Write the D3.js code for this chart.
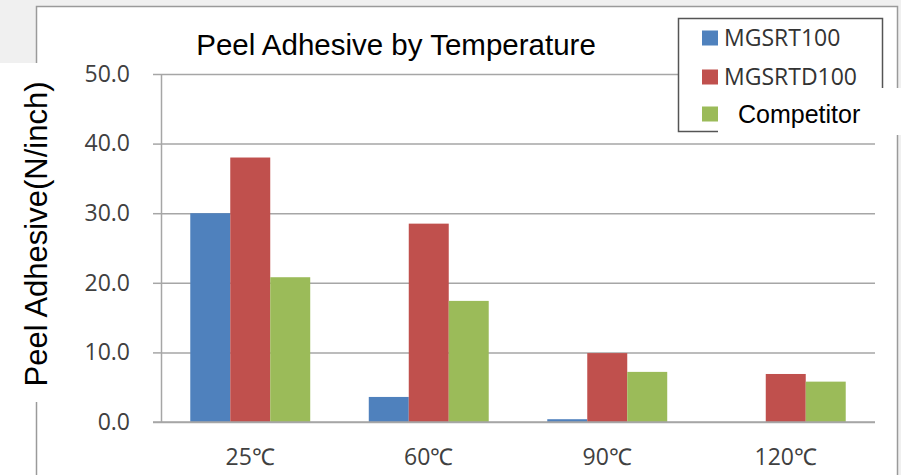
<!DOCTYPE html>
<html>
<head>
<meta charset="utf-8">
<script src="https://cdn.jsdelivr.net/npm/d3@7/dist/d3.min.js"></script>
<style>
  body { margin: 0; background: #f0f0f0; }
  svg { display: block; }
</style>
</head>
<body>
<script>
const categories = ["25℃", "60℃", "90℃", "120℃"];
const seriesNames = ["MGSRT100", "MGSRTD100", "Competitor"];
const mgsrt100 = [30.0, 3.6, 0.4, 0.0];
const mgsrtd100 = [38.0, 28.5, 9.9, 6.9];
const competitor = [20.8, 17.4, 7.2, 5.8];
const yTicks = [0, 10, 20, 30, 40, 50];
const colors = ["#4f81bd", "#c0504d", "#9bbb59"];

const svgWidth = 901, svgHeight = 475;
const plot = { left: 161, right: 875, top: 74, bottom: 422 };

const seriesValues = [mgsrt100, mgsrtd100, competitor];
const data = categories.map(function (c, i) {
    return { cat: c, values: seriesNames.map(function (s, j) { return { key: s, value: seriesValues[j][i] }; }) };
});

const svg = d3.select("body").append("svg")
    .attr("width", svgWidth)
    .attr("height", svgHeight);

// grey screenshot background and white chart frame
svg.append("rect").attr("width", svgWidth).attr("height", svgHeight).attr("fill", "#f0f0f0");
svg.append("rect").attr("x", 0).attr("y", 63).attr("width", 40).attr("height", svgHeight - 63).attr("fill", "#fff");
svg.append("rect")
    .attr("x", 36.5).attr("y", 6.5)
    .attr("width", 861).attr("height", 490)
    .attr("fill", "#fff").attr("stroke", "#9a9a9a").attr("stroke-width", 1.5);

const x0 = d3.scaleBand()
    .domain(categories)
    .range([plot.left, plot.right])
    .paddingInner(0.328)
    .paddingOuter(0.164);

const x1 = d3.scaleBand()
    .domain(seriesNames)
    .range([0, x0.bandwidth()]);

const y = d3.scaleLinear()
    .domain([0, 50])
    .range([plot.bottom, plot.top]);

// gridlines
svg.append("g")
    .attr("transform", "translate(" + plot.left + ",0)")
    .call(d3.axisLeft(y).tickValues(yTicks).tickSize(-(plot.right - plot.left)).tickFormat(""))
    .call(function (g) { g.select(".domain").remove(); })
    .call(function (g) { g.selectAll("line").attr("stroke", "#a6a6a6").attr("stroke-width", 1.5); });

// y axis with tick labels
svg.append("g")
    .attr("transform", "translate(" + plot.left + ",0)")
    .call(d3.axisLeft(y).tickValues(yTicks).tickSize(8).tickSizeOuter(0).tickPadding(23).tickFormat(d3.format(".1f")))
    .call(function (g) {
        g.selectAll("line, path").attr("stroke", "#a6a6a6").attr("stroke-width", 1.5);
        g.selectAll("text").attr("font-family", "'Open Sans', sans-serif").attr("font-size", 23).attr("fill", "#404040");
    });

// bars
const groups = svg.append("g").selectAll("g")
    .data(data).enter()
    .append("g")
    .attr("transform", function (d) { return "translate(" + x0(d.cat) + ",0)"; });

groups.selectAll("rect")
    .data(function (d) { return d.values; }).enter()
    .append("rect")
    .attr("x", function (d) { return x1(d.key); })
    .attr("y", function (d) { return y(d.value); })
    .attr("width", x1.bandwidth())
    .attr("height", function (d) { return y(0) - y(d.value); })
    .attr("fill", function (d, i) { return colors[i]; });

// x axis
svg.append("g")
    .attr("transform", "translate(0," + plot.bottom + ")")
    .call(d3.axisBottom(x0).tickSize(0).tickPadding(27))
    .call(function (g) {
        g.select(".domain").attr("d", "M" + (plot.left - 8) + ",0H" + plot.right).attr("stroke", "#a6a6a6").attr("stroke-width", 1.5);
        g.selectAll("text").attr("font-family", "'Open Sans', sans-serif").attr("font-size", 23).attr("fill", "#404040");
    });

// title
svg.append("text")
    .attr("x", 396).attr("y", 55)
    .attr("text-anchor", "middle")
    .attr("font-family", "'Liberation Sans', Arial, sans-serif")
    .attr("font-size", 29.5)
    .attr("fill", "#000")
    .text("Peel Adhesive by Temperature");

// y label pasted on a white patch
svg.append("rect").attr("x", 0).attr("y", 63).attr("width", 58).attr("height", 339).attr("fill", "#fff");
svg.append("text")
    .attr("transform", "translate(47,234) rotate(-90)")
    .attr("text-anchor", "middle")
    .attr("font-family", "'Liberation Sans', Arial, sans-serif")
    .attr("font-size", 31)
    .attr("fill", "#000")
    .text("Peel Adhesive(N/inch)");

// legend
const legend = svg.append("g");
legend.append("rect")
    .attr("x", 678.5).attr("y", 18.5).attr("width", 204).attr("height", 113)
    .attr("fill", "#fff").attr("stroke", "#555").attr("stroke-width", 1.5);
legend.append("rect").attr("x", 718).attr("y", 88).attr("width", 183).attr("height", 47).attr("fill", "#fff");

const legendY = [38, 77, 114];
seriesNames.forEach(function (s, i) {
    legend.append("rect")
        .attr("x", 702).attr("y", legendY[i] - 7.5)
        .attr("width", 16).attr("height", 15)
        .attr("fill", colors[i]);
    const t = legend.append("text")
        .attr("y", legendY[i])
        .attr("dy", "0.35em")
        .text(s);
    if (i < 2) {
        t.attr("x", 724).attr("font-family", "'Open Sans', sans-serif").attr("font-size", 23).attr("fill", "#333");
    } else {
        t.attr("x", 738).attr("font-family", "'Liberation Sans', Arial, sans-serif").attr("font-size", 25).attr("fill", "#000");
    }
});
</script>
</body>
</html>
